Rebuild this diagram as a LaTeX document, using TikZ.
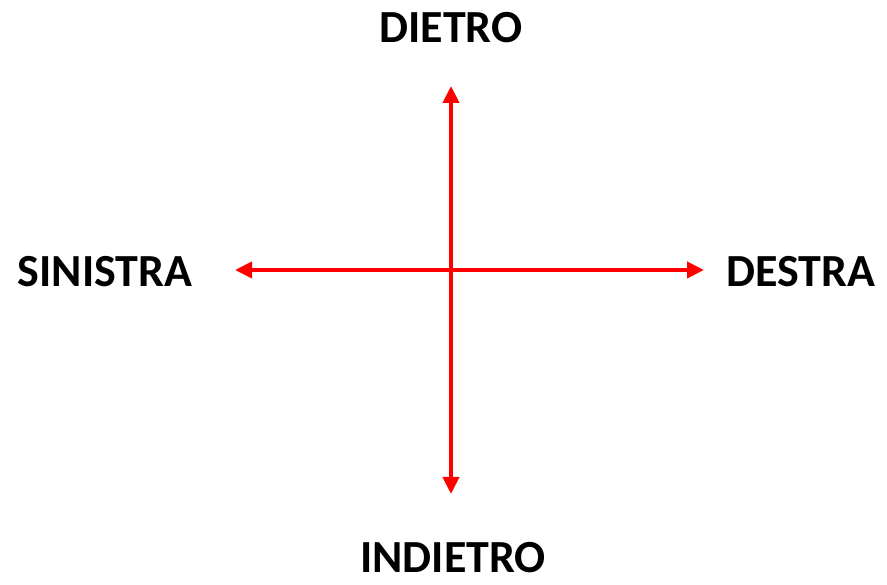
\documentclass[tikz,border=0pt]{standalone}
\usepackage{fontspec}
\setmainfont{Carlito}
\usetikzlibrary{arrows.meta}
\begin{document}
\begin{tikzpicture}[x=1pt,y=1pt,
  fleche/.style={draw=red,line width=4pt,{Triangle[length=17pt,width=16pt]}-{Triangle[length=17pt,width=16pt]}},
  direction/.style={anchor=base,inner sep=0pt,font=\bfseries\fontsize{46}{50}\selectfont}]
\useasboundingbox (0,0) rectangle (887,585);
\def\cx{451}%centre horizontal
\def\cy{315}%centre vertical
\coordinate (haut) at (\cx,499);
\coordinate (bas) at (\cx,91);
\coordinate (gauche) at (235,\cy);
\coordinate (droite) at (704,\cy);
\draw[fleche] (bas) -- (haut);%axe vertical
\draw[fleche] (gauche) -- (droite);%axe horizontal
\node[direction] (dietro) at (451,542){DIETRO};
\node[direction] (indietro) at (453,12){INDIETRO};
\node[direction] (sinistra) at (105,298){SINISTRA};
\node[direction] (destra) at (801,298){DESTRA};
\end{tikzpicture}
\end{document}
